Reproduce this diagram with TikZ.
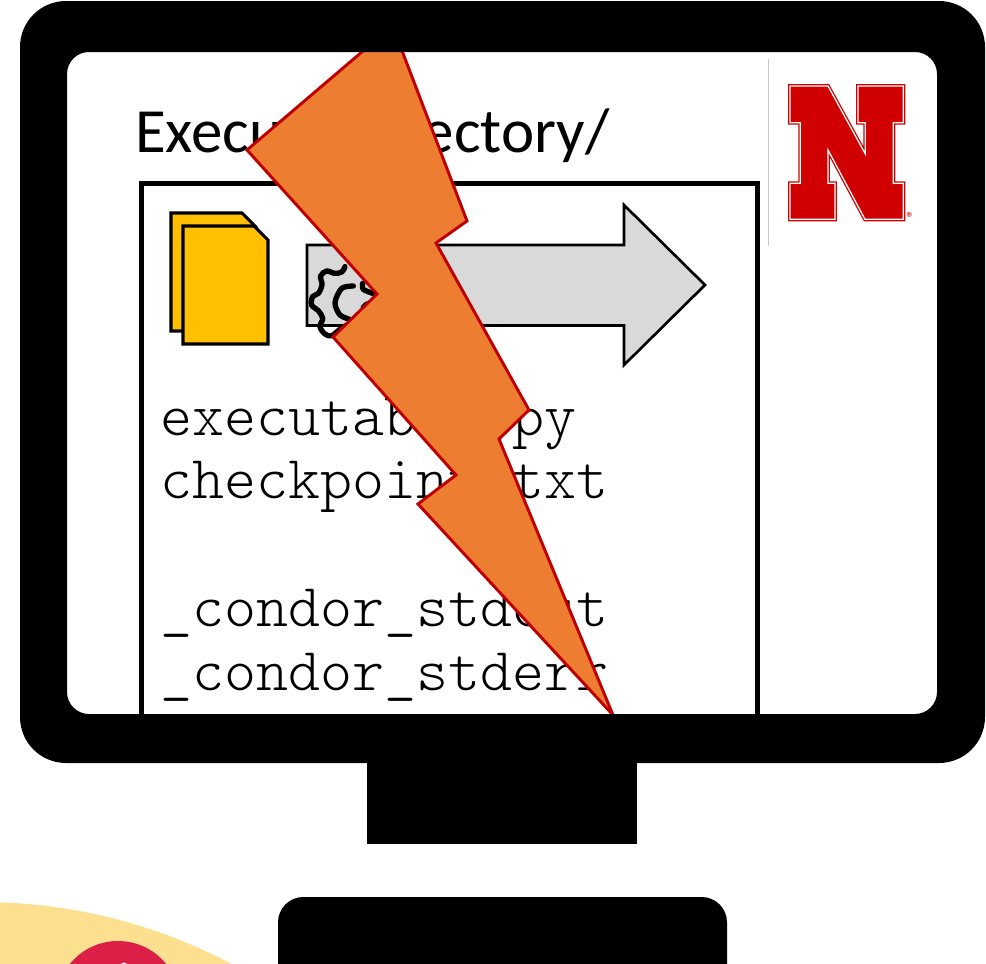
\documentclass[tikz,border=0pt]{standalone}
\usepackage{fontspec}
\setmainfont{Carlito}
\setmonofont{Latin Modern Mono Light}
\definecolor{foldery}{HTML}{FFC000}
\definecolor{boltfill}{HTML}{ED7D31}
\definecolor{boltln}{HTML}{C00000}
\definecolor{arrowgr}{HTML}{D9D9D9}
\definecolor{nred}{HTML}{D00000}
\definecolor{ruleln}{HTML}{C8C8C8}
\definecolor{sunyel}{HTML}{FDE08F}
\definecolor{sunred}{HTML}{DB1F47}

\begin{document}
\begin{tikzpicture}[
      x=0.75pt,y=-0.75pt,
      monotxt/.style={font=\ttfamily\fontsize{45.7}{50}\selectfont,anchor=base west,inner sep=0pt},
      titletxt/.style={font=\fontsize{47.2}{50}\selectfont,anchor=base west,inner sep=0pt},
      pageln/.style={draw=black,fill=foldery,line width=2.3pt,line join=miter},
      gearln/.style={draw=black,line width=4pt,line cap=round},
    ]
    \useasboundingbox (0,0) rectangle (986,964);
    \clip (0,0) rectangle (986,964);
    % corner of the slide behind
    \fill[sunyel] (-18.7,1437) circle[radius=535];
    \fill[sunred] (118,1003) circle[radius=62];
    \fill[white] (124,967) circle[radius=4.5];
    % screen contents
    \node[titletxt] (dirtitle) at (135,152) {Execute Directory/};
    \draw[black,line width=3.75pt,line join=miter] (141,730) -- (141,183) -- (757,183) -- (757,730);
    \draw[pageln] (171,213) -- (242,213) -- (256,227) -- (256,331) -- (171,331) -- cycle;
    \draw[pageln] (183,226) -- (254,226) -- (268,240) -- (268,344) -- (183,344) -- cycle;
    \draw[black,fill=arrowgr,line width=2pt,line join=miter]
      (307,245) -- (624,245) -- (624,205) -- (705,285) -- (624,365) -- (624,325.5) -- (307,325.5) -- cycle;
    \begin{scope}[shift={(150,190)},x=0.25pt,y=-0.25pt]
      \draw[gearln] plot[smooth,tension=0.6] coordinates {(585,230) (575,246) (553,250) (530,243)
        (512,258) (516,285) (505,310) (488,320) (485,345) (505,362) (518,385) (510,410)
        (525,432) (545,437) (570,418) (600,400)};
      \draw[gearln] plot[smooth] coordinates {(610,288) (575,295) (555,338) (570,375) (605,390)};
      \draw[gearln] plot[smooth] coordinates {(638,280) (640,298) (668,310)};
      \draw[gearln] (650,342) -- (640,352);
    \end{scope}
    \foreach \ty/\tn/\tx in {435/a/executable.py,498/b/checkpoint.txt,626/c/\_condor\_stdout,690/d/\_condor\_stderr}{
      \node[monotxt] (line\tn) at (160.5,\ty) {\tx};
    }
    % lightning bolt
    \draw[boltln,fill=boltfill,line width=2.2pt,line join=miter]
      (366.5,48) -- (401,48) -- (467,221) -- (436,243) -- (529,410) -- (499,439) -- (613,715)
      -- (418,504) -- (456,475) -- (333,337) -- (377,294) -- (247,150) -- cycle;
    % monitor
    \fill[black,even odd rule,rounded corners=34.5pt] (20,1) rectangle (985,763)
      [rounded corners=16.5pt] (67,52) rectangle (937,714);
    \fill[black] (367,760) rectangle (637,844);
    \fill[black,rounded corners=19pt] (278,897) rectangle (727,1000);
    % logo
    \draw[ruleln,line width=0.6pt] (768,59) -- (768,246);
    \begin{scope}[shift={(750,50)},x=0.25pt,y=-0.25pt]
      \def\npath{(120,108) -- (234,108) -- (346,312) -- (346,218) -- (324,218) -- (324,108)
        -- (460,108) -- (460,218) -- (430,218) -- (430,400) -- (460,400) -- (460,508)
        -- (345,508) -- (234,300) -- (234,400) -- (255,400) -- (255,508) -- (120,508)
        -- (120,400) -- (151,400) -- (151,218) -- (120,218) -- cycle}
      \draw[nred,fill=nred,line width=2.9pt,line join=miter] \npath;
      \draw[white,line width=0.95pt,line join=miter] \npath;
      \node[text=nred,font=\fontsize{12}{12}\selectfont,inner sep=0pt] (nmark) at (481,503) {®};
    \end{scope}
\end{tikzpicture}
\end{document}
